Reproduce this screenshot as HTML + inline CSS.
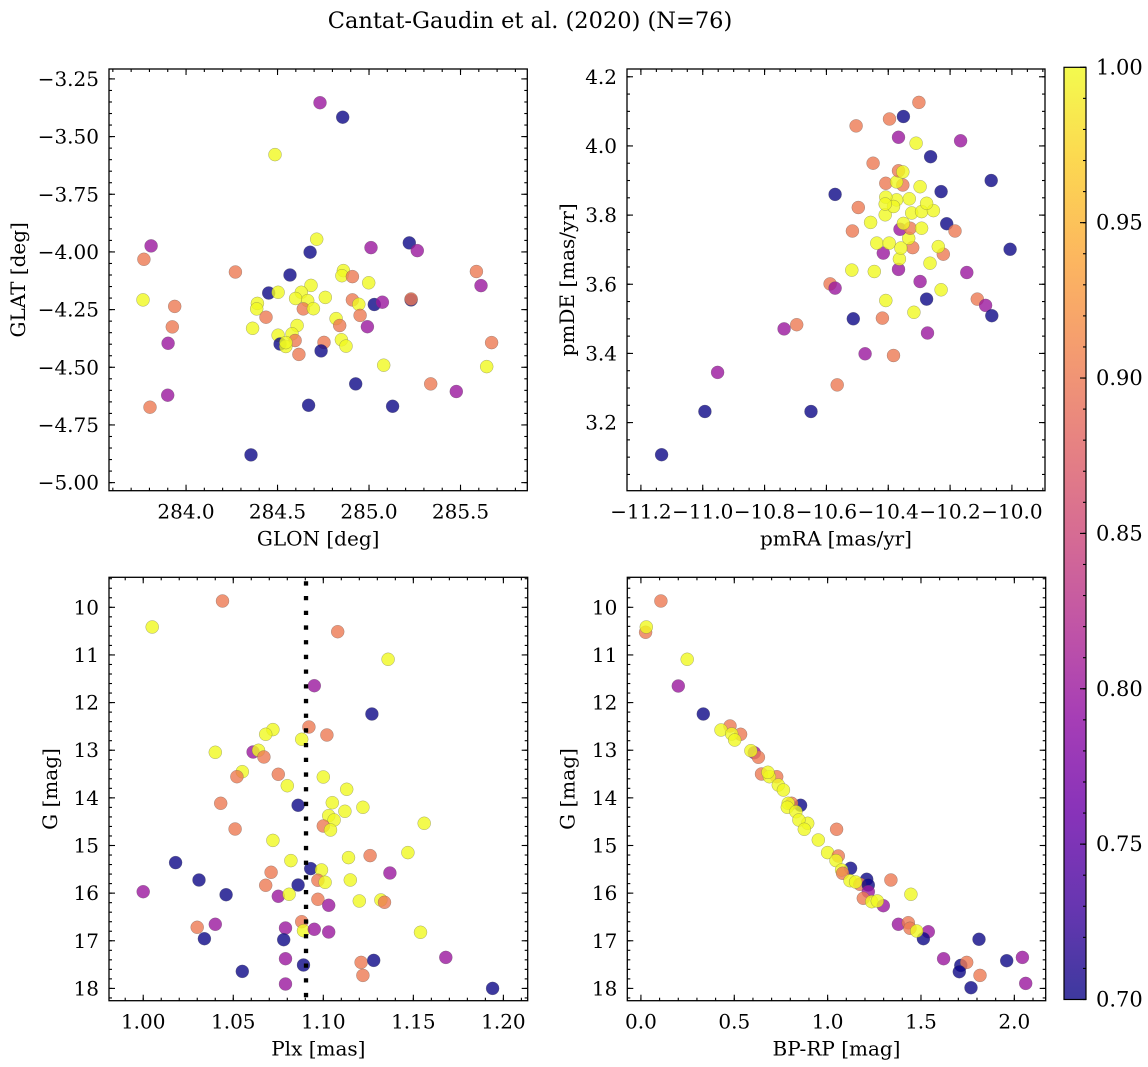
<!DOCTYPE html>
<html><head><meta charset="utf-8">
<style>
html,body{margin:0;padding:0;background:#fff;}
svg{display:block;font-family:"DejaVu Serif","Liberation Serif",serif;}
</style></head>
<body>
<svg id="fig" width="1148" height="1067" viewBox="0 0 1148 1067" xmlns="http://www.w3.org/2000/svg">
<text x="530" y="28" font-size="22.5" text-anchor="middle">Cantat-Gaudin et al. (2020) (N=76)</text>
</svg>
<script>
// ---------- Panel 1: GLON / GLAT ----------
const p1Glon=[284.732,284.856,284.486,283.809,283.770,284.714,284.678,285.220,285.264,285.011,284.270,284.568,284.860,284.852,284.909,284.998,284.683,285.587,285.612,283.765,283.938,284.452,284.503,284.630,284.599,284.665,284.761,284.909,284.944,285.029,285.073,285.230,285.230,284.390,284.386,284.641,284.696,284.437,284.951,284.820,284.840,284.991,283.925,284.364,284.607,284.579,284.503,284.514,284.596,284.545,284.546,284.754,284.738,284.849,284.874,284.617,283.902,285.670,285.080,285.643,284.927,285.337,285.477,283.900,283.803,284.670,285.129,284.355];
const p1Glat=[-3.353,-3.416,-3.578,-3.974,-4.032,-3.945,-4.001,-3.961,-3.994,-3.981,-4.087,-4.100,-4.081,-4.103,-4.107,-4.134,-4.145,-4.085,-4.146,-4.208,-4.236,-4.178,-4.175,-4.175,-4.202,-4.211,-4.197,-4.208,-4.227,-4.228,-4.218,-4.208,-4.204,-4.223,-4.247,-4.247,-4.246,-4.283,-4.275,-4.289,-4.319,-4.324,-4.325,-4.331,-4.319,-4.355,-4.361,-4.399,-4.384,-4.410,-4.393,-4.392,-4.429,-4.381,-4.408,-4.444,-4.396,-4.393,-4.491,-4.497,-4.572,-4.572,-4.605,-4.621,-4.673,-4.665,-4.669,-4.880];
const p1Prob=[0.80,0.70,1.0,0.80,0.90,1.0,0.70,0.70,0.80,0.80,0.90,0.70,1.0,1.0,0.90,1.0,1.0,0.90,0.80,1.0,0.90,0.70,1.0,1.0,1.0,1.0,1.0,0.90,1.0,0.70,0.80,0.70,0.90,1.0,1.0,0.90,1.0,0.90,0.90,1.0,0.90,0.80,0.90,1.0,1.0,1.0,1.0,0.70,0.90,1.0,1.0,0.90,0.70,1.0,1.0,0.90,0.80,0.90,1.0,1.0,0.70,0.90,0.80,0.80,0.90,0.70,0.70,0.70];

// ---------- Panel 2: pmRA / pmDE ----------
const p2Pmra=[-11.133,-10.993,-10.952,-10.650,-10.565,-10.737,-10.696,-10.475,-10.383,-10.273,-10.513,-10.419,-10.408,-10.317,-10.276,-10.229,-10.588,-10.572,-10.297,-10.146,-10.112,-10.085,-10.065,-10.006,-10.518,-10.445,-10.367,-10.364,-10.265,-10.222,-10.238,-10.321,-10.416,-10.437,-10.397,-10.359,-10.334,-10.516,-10.457,-10.362,-10.329,-10.351,-10.292,-10.211,-10.184,-10.410,-10.324,-10.292,-10.254,-10.276,-10.332,-10.373,-10.408,-10.383,-10.410,-10.497,-10.572,-10.229,-10.297,-10.408,-10.353,-10.373,-10.367,-10.353,-10.067,-10.449,-10.263,-10.310,-10.166,-10.367,-10.504,-10.396,-10.351,-10.301];
const p2Pmde=[3.107,3.232,3.345,3.232,3.309,3.471,3.483,3.399,3.394,3.459,3.500,3.502,3.553,3.519,3.557,3.584,3.601,3.589,3.608,3.634,3.557,3.539,3.509,3.701,3.641,3.637,3.643,3.673,3.661,3.687,3.709,3.706,3.690,3.719,3.719,3.705,3.733,3.754,3.779,3.759,3.762,3.776,3.762,3.775,3.754,3.801,3.806,3.810,3.813,3.834,3.847,3.844,3.852,3.825,3.832,3.822,3.860,3.868,3.882,3.892,3.887,3.896,3.928,3.925,3.900,3.950,3.969,4.008,4.015,4.025,4.058,4.078,4.085,4.126];
const p2Prob=[0.70,0.70,0.80,0.70,0.90,0.80,0.90,0.80,0.90,0.80,0.70,0.90,1.0,1.0,0.70,1.0,0.90,0.80,0.80,0.80,0.90,0.80,0.70,0.70,1.0,1.0,0.80,1.0,1.0,0.90,1.0,0.90,0.80,1.0,1.0,1.0,1.0,0.90,1.0,0.80,0.90,1.0,1.0,0.70,0.90,1.0,1.0,1.0,1.0,1.0,1.0,1.0,1.0,1.0,1.0,0.90,0.70,0.70,1.0,0.90,0.90,1.0,0.90,1.0,0.70,0.90,0.70,1.0,0.80,0.80,0.90,0.90,0.70,0.90];

// ---------- Panel 3: Plx / G ----------
const p3Plx=[1.044,1.005,1.108,1.136,1.095,1.127,1.092,1.072,1.068,1.102,1.088,1.040,1.061,1.064,1.067,1.055,1.052,1.075,1.080,1.100,1.113,1.086,1.043,1.105,1.112,1.122,1.103,1.106,1.100,1.104,1.156,1.051,1.072,1.018,1.082,1.093,1.114,1.126,1.147,1.099,1.137,1.071,1.031,1.097,1.101,1.115,1.086,1.068,1.000,1.046,1.075,1.081,1.097,1.103,1.120,1.132,1.134,1.030,1.040,1.079,1.088,1.089,1.095,1.103,1.154,1.034,1.078,1.079,1.089,1.121,1.128,1.122,1.168,1.055,1.079,1.194];
const p3G=[9.867,10.413,10.511,11.092,11.645,12.239,12.512,12.568,12.666,12.680,12.771,13.044,13.037,13.002,13.142,13.450,13.555,13.506,13.744,13.562,13.821,14.157,14.115,14.101,14.283,14.199,14.374,14.465,14.591,14.675,14.535,14.654,14.892,15.360,15.318,15.486,15.255,15.213,15.150,15.514,15.577,15.563,15.724,15.731,15.773,15.724,15.829,15.836,15.969,16.032,16.067,16.025,16.130,16.256,16.165,16.144,16.193,16.718,16.655,16.732,16.599,16.788,16.760,16.816,16.823,16.956,16.977,17.376,17.509,17.453,17.411,17.726,17.348,17.642,17.908,17.999];
const p3Prob=[0.90,1.0,0.90,1.0,0.80,0.70,0.90,1.0,1.0,0.90,1.0,1.0,0.80,1.0,0.90,1.0,0.90,0.90,1.0,1.0,1.0,0.70,0.90,1.0,1.0,1.0,1.0,1.0,0.90,1.0,1.0,0.90,1.0,0.70,1.0,0.70,1.0,0.90,1.0,1.0,0.80,0.90,0.70,0.90,1.0,1.0,0.70,0.90,0.80,0.70,0.80,1.0,0.90,0.80,1.0,1.0,0.90,0.90,0.80,0.80,0.90,1.0,0.80,0.80,1.0,0.70,0.70,0.80,0.70,0.90,0.70,0.90,0.80,0.70,0.80,0.70];
const plxRef=[1.0904];

// ---------- Panel 4: BP-RP / G ----------
const p4Bprp=[0.107,0.025,0.029,0.248,0.200,0.334,0.477,0.534,0.429,0.486,0.502,0.607,0.629,0.589,0.646,0.727,0.688,0.680,0.736,0.763,0.855,0.807,0.789,0.784,0.830,0.893,0.846,0.875,1.048,0.950,1.000,1.057,1.045,1.123,1.075,1.080,1.209,1.120,1.173,1.150,1.218,1.218,1.339,1.446,1.191,1.236,1.298,1.266,1.379,1.432,1.441,1.539,1.513,1.477,1.811,1.621,1.713,1.745,1.705,1.816,1.959,2.043,1.768,2.061];
const p4G=[9.867,10.525,10.413,11.092,11.652,12.239,12.491,12.666,12.575,12.659,12.785,13.051,13.149,13.009,13.499,13.555,13.555,13.464,13.730,13.835,14.157,14.115,14.115,14.199,14.290,14.535,14.465,14.661,14.661,14.885,15.150,15.220,15.318,15.479,15.514,15.584,15.710,15.738,15.815,15.766,15.829,15.969,15.724,16.025,16.109,16.179,16.263,16.165,16.655,16.620,16.739,16.809,16.956,16.795,16.970,17.376,17.516,17.453,17.649,17.726,17.418,17.348,17.985,17.894];
const p4Prob=[0.90,0.90,1.0,1.0,0.80,0.70,0.90,0.90,1.0,1.0,1.0,0.80,0.90,1.0,0.90,0.90,1.0,1.0,1.0,1.0,0.70,0.90,1.0,1.0,1.0,1.0,1.0,1.0,0.90,1.0,1.0,0.90,1.0,0.70,1.0,0.90,0.70,1.0,0.90,1.0,0.70,0.80,0.90,1.0,0.90,1.0,0.80,1.0,0.80,0.90,0.90,0.80,0.70,1.0,0.70,0.80,0.70,0.90,0.70,0.90,0.70,0.80,0.70,0.80];

// ---------- Colorbar ----------
const cbTicks=[0.70,0.75,0.80,0.85,0.90,0.95,1.00];
const cbRange=[0.70,1.00];

const NS="http://www.w3.org/2000/svg";
const svg=document.getElementById('fig');
function el(tag,attrs,parent){const e=document.createElementNS(NS,tag);for(const k in attrs)e.setAttribute(k,attrs[k]);(parent||svg).appendChild(e);return e;}
const plasma=[[13,8,135],[65,4,157],[106,0,168],[143,13,164],[177,42,144],[204,71,120],[225,100,98],[242,132,75],[252,166,54],[252,206,37],[240,249,33]];
function cmap(v){let t=(v-cbRange[0])/(cbRange[1]-cbRange[0]);t=Math.max(0,Math.min(1,t));const f=t*10;const i=Math.min(9,Math.floor(f));const r=f-i;const a=plasma[i],b=plasma[i+1];return 'rgb('+a.map((c,k)=>Math.round(c+(b[k]-c)*r)).join(',')+')';}
function fmt(v,d){const s=Math.abs(v).toFixed(d);return (v<-1e-9?'\u2212':'')+s;}
function range(lo,hi,step){const out=[];const s=Math.ceil(lo/step-1e-6);const e=Math.floor(hi/step+1e-6);for(let i=s;i<=e;i++)out.push(+(i*step).toFixed(6));return out;}
const TICKFS=20, LABFS=20;

function panel(o){
  const g=el('g',{});
  
  
  const sx=v=>o.L+(v-o.xl[0])/(o.xl[1]-o.xl[0])*(o.R-o.L);
  const sy=v=>o.yinv? o.T+(v-o.yl[0])/(o.yl[1]-o.yl[0])*(o.B-o.T) : o.B-(v-o.yl[0])/(o.yl[1]-o.yl[0])*(o.B-o.T);
  const mg=el('g',{},g);
  
  
  for(let i=0;i<o.xs.length;i++){
    const c=el('circle',{cx:sx(o.xs[i]).toFixed(1),cy:sy(o.ys[i]).toFixed(1),r:6.5,fill:cmap(o.cs[i]),'fill-opacity':0.8,stroke:'#555','stroke-opacity':0.5,'stroke-width':0.5},mg);
    
    
  }
  if(o.vline){for(const v of o.vline){const l=el('line',{x1:sx(v),x2:sx(v),y1:o.T+4,y2:o.B,stroke:'#000','stroke-width':4.3,'stroke-dasharray':'4.3 10.4'},g);
    
    }}
  const f=el('rect',{x:o.L,y:o.T,width:o.R-o.L,height:o.B-o.T,fill:'none',stroke:'#000','stroke-width':1.3},g);
  
  
  const tg=el('g',{stroke:'#000','stroke-width':1.1},g);
  for(const v of range(o.xl[0],o.xl[1],o.xminor)){const x=sx(v);el('line',{x1:x,x2:x,y1:o.B,y2:o.B-3},tg);el('line',{x1:x,x2:x,y1:o.T,y2:o.T+3},tg);}
  for(const v of range(o.yl[0],o.yl[1],o.yminor)){const y=sy(v);el('line',{x1:o.L,x2:o.L+3,y1:y,y2:y},tg);el('line',{x1:o.R,x2:o.R-3,y1:y,y2:y},tg);}
  for(const v of o.xticks){const x=sx(v);el('line',{x1:x,x2:x,y1:o.B,y2:o.B-6},tg);el('line',{x1:x,x2:x,y1:o.T,y2:o.T+6},tg);
    const t=el('text',{x:x,y:o.B+28,'font-size':TICKFS,'text-anchor':'middle'},g);t.textContent=fmt(v,o.xd);
    
    }
  for(const v of o.yticks){const y=sy(v);el('line',{x1:o.L,x2:o.L+6,y1:y,y2:y},tg);el('line',{x1:o.R,x2:o.R-6,y1:y,y2:y},tg);
    const t=el('text',{x:o.L-10,y:y+7,'font-size':TICKFS,'text-anchor':'end'},g);t.textContent=fmt(v,o.yd);
    
    }
  const xt=el('text',{x:(o.L+o.R)/2,y:o.B+55,'font-size':LABFS,'text-anchor':'middle'},g);xt.textContent=o.xlab;
  
  
  const yx=o.L-o.ylo+7,yy=(o.T+o.B)/2;
  const yt=el('text',{x:yx,y:yy,'font-size':LABFS,'text-anchor':'middle',transform:'rotate(-90 '+yx+' '+yy+')'},g);yt.textContent=o.ylab;
  
  
}

panel({name:'glon-glat-panel',L:109,R:527.3,T:69,B:490.7,xl:[283.579,285.865],yl:[-5.035,-3.207],xs:p1Glon,ys:p1Glat,cs:p1Prob,ylo:91,
  xticks:[284.0,284.5,285.0,285.5],xd:1,xminor:0.1,yticks:range(-5.0,-3.25,0.25),yd:2,yminor:0.05,xlab:'GLON [deg]',ylab:'GLAT [deg]'});
panel({name:'pm-panel',L:627,R:1045,T:69,B:490.7,xl:[-11.245,-9.893],yl:[3.003,4.2225],xs:p2Pmra,ys:p2Pmde,cs:p2Prob,ylo:60,
  xticks:range(-11.2,-10.0,0.2),xd:1,xminor:0.05,yticks:range(3.2,4.2,0.2),yd:1,yminor:0.05,xlab:'pmRA [mas/yr]',ylab:'pmDE [mas/yr]'});
panel({name:'plx-g-panel',L:109,R:527.7,T:577.3,B:1000.7,xl:[0.981,1.2135],yl:[9.370,18.258],yinv:true,xs:p3Plx,ys:p3G,cs:p3Prob,vline:plxRef,ylo:59,
  xticks:range(1.0,1.2,0.05),xd:2,xminor:0.01,yticks:range(10,18,1),yd:0,yminor:0.2,xlab:'Plx [mas]',ylab:'G [mag]'});
panel({name:'cmd-panel',L:627.3,R:1045.7,T:577.3,B:1000.7,xl:[-0.073,2.168],yl:[9.370,18.258],yinv:true,xs:p4Bprp,ys:p4G,cs:p4Prob,ylo:60,
  xticks:range(0,2.0,0.5),xd:1,xminor:0.1,yticks:range(10,18,1),yd:0,yminor:0.2,xlab:'BP-RP [mag]',ylab:'G [mag]'});

(function(){
  const L=1064,R=1086,T=67.3,B=999.5;
  const defs=el('defs',{});
  const lg=el('linearGradient',{id:'cbg',x1:0,y1:1,x2:0,y2:0},defs);
  for(let i=0;i<=10;i++){el('stop',{offset:i/10,'stop-color':'rgb('+plasma[i].join(',')+')'},lg);}
  const g=el('g',{});
  
  
  el('rect',{x:L,y:T,width:R-L,height:B-T,fill:'url(#cbg)','fill-opacity':0.8},g);
  el('rect',{x:L,y:T,width:R-L,height:B-T,fill:'none',stroke:'#000','stroke-width':1.2},g);
  const sy=v=>B-(v-cbRange[0])/(cbRange[1]-cbRange[0])*(B-T);
  for(const v of range(cbRange[0],cbRange[1],0.01)){el('line',{x1:R,x2:R-3,y1:sy(v),y2:sy(v),stroke:'#000','stroke-width':1.1},g);}
  for(const v of cbTicks){const y=sy(v);el('line',{x1:R,x2:R-6,y1:y,y2:y,stroke:'#000','stroke-width':1.1},g);
    const t=el('text',{x:R+10,y:y+7,'font-size':21},g);t.textContent=v.toFixed(2);
    
    }
})();
</script>
</body></html>
